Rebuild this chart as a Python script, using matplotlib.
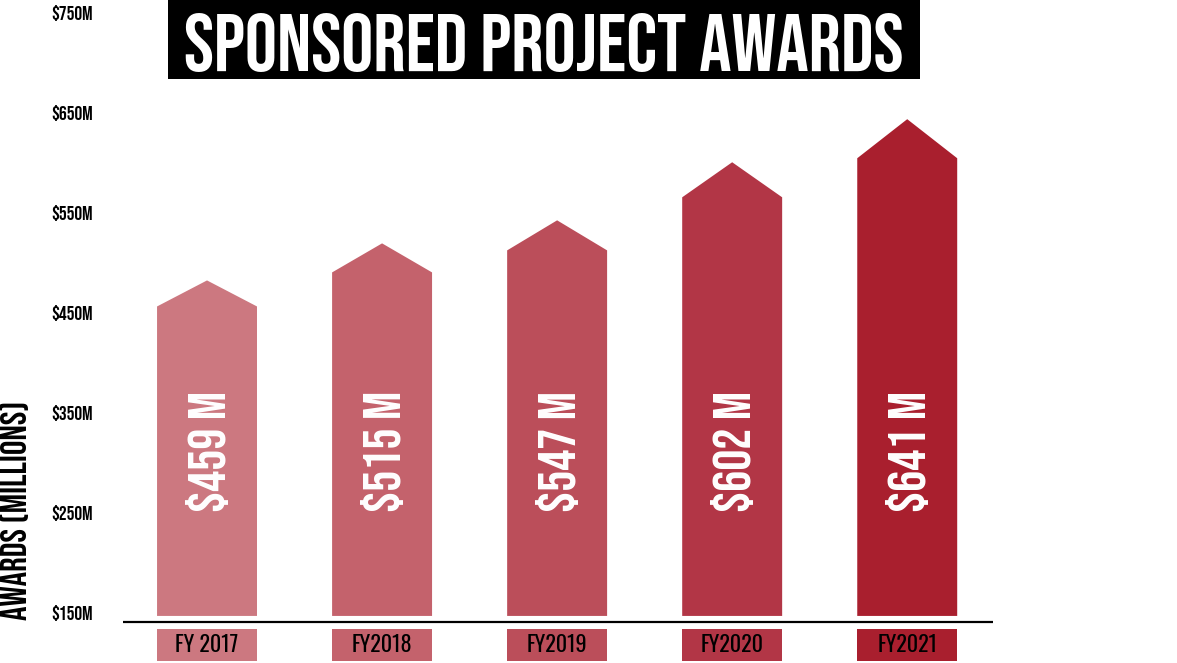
#!/usr/bin/env python3
"""Sponsored project awards, FY2017-FY2021, drawn as arrow-topped bars."""

import matplotlib
matplotlib.use("Agg")
import matplotlib.pyplot as plt
from matplotlib import font_manager as fm
from matplotlib.patches import Rectangle

# data (millions of dollars)
years = ["FY 2017", "FY2018", "FY2019", "FY2020", "FY2021"]
awards = [459, 515, 547, 602, 641]
value_labels = ["$459 M", "$515 M", "$547 M", "$602 M", "$641 M"]
# arrow geometry: shoulder and tip heights ($M)
shoulders = [456, 490, 512, 565, 604]
tips = [482, 519, 542, 600, 643]
ytick_vals = [150, 250, 350, 450, 550, 650, 750]
ytick_labels = ["$150M", "$250M", "$350M", "$450M", "$550M", "$650M", "$750M"]

colors = ["#cc7880", "#c4626c", "#bb4e5a", "#b23646", "#a91f2e"]

W = 0.571          # bar width in category units
BAR_BOTTOM = 147
BASELINE = 141
BOX_BOTTOM, BOX_H = 102, 32
LABEL_Y = 311


def pick(cands):
    have = {f.name for f in fm.fontManager.ttflist}
    for c in cands:
        if c in have:
            return [c, "DejaVu Sans"]
    return ["DejaVu Sans"]


HEAD = pick(["Bebas Neue", "Anton", "Oswald", "DejaVu Sans"])
BODY = pick(["Oswald", "Bebas Neue", "Anton", "DejaVu Sans"])


def main():
    fig = plt.figure(figsize=(11.77, 6.63), dpi=100)
    ax = fig.add_axes([123 / 1177, 0, 870 / 1177, 1])
    ax.set_xlim(-0.48, 4.49)
    ax.set_ylim(100, 762)

    for i, (sh, tip, c) in enumerate(zip(shoulders, tips, colors)):
        xs = [i - W / 2, i - W / 2, i, i + W / 2, i + W / 2]
        ys = [BAR_BOTTOM, sh, tip, sh, BAR_BOTTOM]
        ax.fill(xs, ys, color=c, lw=0)
        ax.text(i, LABEL_Y, value_labels[i], rotation=90, ha="center",
                va="center", color="white", fontsize=38, fontweight="bold",
                family=HEAD)
        # category label box under the axis line
        ax.add_patch(Rectangle((i - W / 2, BOX_BOTTOM), W, BOX_H, color=c, lw=0))
        ax.text(i, BOX_BOTTOM + BOX_H / 2, years[i], ha="center", va="center",
                color="black", fontsize=16, family=BODY)

    ax.axhline(BASELINE, color="black", lw=1.6)

    ax.set_yticks(ytick_vals)
    ax.set_yticklabels(ytick_labels, fontsize=14, fontweight="bold",
                       family=HEAD)
    ax.tick_params(axis="y", length=0, pad=21.5)
    ax.set_xticks([])
    for s in ax.spines.values():
        s.set_visible(False)

    fig.text(14 / 1177, 1 - 510 / 663, "AWARDS (MILLIONS)", rotation=90,
             ha="center", va="center", fontsize=26, fontweight="bold",
             family=HEAD)

    # title in a black band
    fig.add_artist(Rectangle((168 / 1177, 1 - 79 / 663), 752 / 1177, 79 / 663,
                             transform=fig.transFigure, color="black", lw=0))
    fig.text(544 / 1177, 1 - 42 / 663, "SPONSORED PROJECT AWARDS",
             ha="center", va="center", color="white", fontsize=58,
             fontweight="bold", family=HEAD)

    fig.savefig("out.png", dpi=100)
    plt.close(fig)


if __name__ == "__main__":
    main()
